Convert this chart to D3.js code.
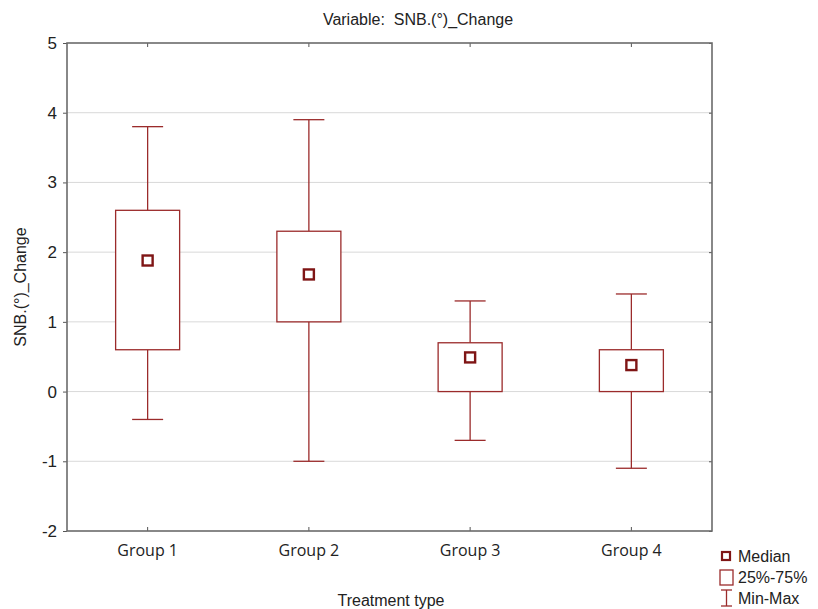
<!DOCTYPE html>
<html><head><meta charset="utf-8">
<script src="https://cdn.jsdelivr.net/npm/d3@7"></script>
<style>body{margin:0;background:#fff}</style>
</head><body>
<svg id="c" width="818" height="609"></svg>
<script>
const categories = ["Group 1", "Group 2", "Group 3", "Group 4"];
const minVals = [-0.4, -1.0, -0.7, -1.1];
const q1Vals = [0.6, 1.0, 0.0, 0.0];
const medianVals = [1.88, 1.68, 0.49, 0.38];
const q3Vals = [2.6, 2.3, 0.7, 0.6];
const maxVals = [3.8, 3.9, 1.3, 1.4];
const yTicks = [-2, -1, 0, 1, 2, 3, 4, 5];

const svg = d3.select("#c");
const L = 67, T = 43, R = 712, B = 531;
const x = d3.scaleBand().domain(categories).range([L, R]).padding(0);
const y = d3.scaleLinear().domain([-2, 5]).range([B, T]);
const red = "#9b2b2b", dark = "#7f1515";
const sans = "Liberation Sans, Arial, sans-serif";

svg.append("g").selectAll("line").data(yTicks.filter(d => d > -2 && d < 5)).join("line")
  .attr("x1", L).attr("x2", R).attr("y1", d => y(d)).attr("y2", d => y(d))
  .attr("stroke", "#d9d9d9").attr("stroke-width", 1);

const axL = svg.append("g").attr("transform", `translate(${L},0)`)
  .call(d3.axisLeft(y).tickValues(yTicks).tickSize(4).tickFormat(d => String(d)));
const axR = svg.append("g").attr("transform", `translate(${R},0)`)
  .call(d3.axisLeft(y).tickValues(yTicks).tickSize(3).tickFormat(""));
const axB = svg.append("g").attr("transform", `translate(0,${B})`)
  .call(d3.axisTop(x).tickSize(4).tickFormat(""));
const axT = svg.append("g").attr("transform", `translate(0,${T})`)
  .call(d3.axisBottom(x).tickSize(4).tickFormat(""));
[axL, axR, axB, axT].forEach(g => {
  g.select(".domain").remove();
  g.selectAll(".tick line").attr("stroke", "#555");
});
axL.selectAll("text").attr("font-family", sans)
  .attr("font-size", 17).attr("fill", "#222").attr("dx", -3);

svg.append("rect").attr("x", L).attr("y", T).attr("width", R - L).attr("height", B - T)
  .attr("fill", "none").attr("stroke", "#6b6b6b").attr("stroke-width", 1.6);

svg.append("g").selectAll("text").data(categories).join("text")
  .attr("x", d => x(d) + x.bandwidth() / 2).attr("y", 556)
  .attr("text-anchor", "middle").attr("font-family", "Open Sans, sans-serif")
  .attr("font-size", 16).attr("fill", "#222").text(d => d);

const bw = 64, cw = 31;
const g = svg.append("g");
categories.forEach((c, i) => {
  const cx = x(c) + x.bandwidth() / 2;
  const gg = g.append("g").attr("stroke", red).attr("stroke-width", 1.3).attr("fill", "none");
  gg.append("line").attr("x1", cx).attr("x2", cx).attr("y1", y(maxVals[i])).attr("y2", y(q3Vals[i]));
  gg.append("line").attr("x1", cx).attr("x2", cx).attr("y1", y(q1Vals[i])).attr("y2", y(minVals[i]));
  gg.append("line").attr("x1", cx - cw / 2).attr("x2", cx + cw / 2).attr("y1", y(maxVals[i])).attr("y2", y(maxVals[i]));
  gg.append("line").attr("x1", cx - cw / 2).attr("x2", cx + cw / 2).attr("y1", y(minVals[i])).attr("y2", y(minVals[i]));
  gg.append("rect").attr("x", cx - bw / 2).attr("width", bw)
    .attr("y", y(q3Vals[i])).attr("height", y(q1Vals[i]) - y(q3Vals[i])).attr("fill", "#fff");
  g.append("rect").attr("x", cx - 5).attr("y", y(medianVals[i]) - 5).attr("width", 10).attr("height", 10)
    .attr("fill", "#fff").attr("stroke", dark).attr("stroke-width", 2.4);
});

svg.append("text").attr("x", 418).attr("y", 25).attr("text-anchor", "middle")
  .attr("font-family", sans).attr("font-size", 16).attr("fill", "#222")
  .attr("xml:space", "preserve").text("Variable:  SNB.(°)_Change");
svg.append("text").attr("transform", "translate(26,287) rotate(-90)").attr("text-anchor", "middle")
  .attr("font-family", sans).attr("font-size", 16).attr("fill", "#222")
  .text("SNB.(°)_Change");
svg.append("text").attr("x", 391).attr("y", 606).attr("text-anchor", "middle")
  .attr("font-family", sans).attr("font-size", 16).attr("fill", "#222")
  .text("Treatment type");

const lg = svg.append("g").attr("font-family", sans).attr("font-size", 16).attr("fill", "#222");
lg.append("rect").attr("x", 722).attr("y", 552).attr("width", 8).attr("height", 8)
  .attr("fill", "#fff").attr("stroke", dark).attr("stroke-width", 2.2);
lg.append("text").attr("x", 738).attr("y", 562).text("Median");
lg.append("rect").attr("x", 720).attr("y", 570).attr("width", 13).attr("height", 15)
  .attr("fill", "#fff").attr("stroke", red).attr("stroke-width", 1.3);
lg.append("text").attr("x", 738).attr("y", 583).text("25%-75%");
const wl = lg.append("g").attr("stroke", red).attr("stroke-width", 1.3);
wl.append("line").attr("x1", 721).attr("x2", 732).attr("y1", 590).attr("y2", 590);
wl.append("line").attr("x1", 721).attr("x2", 732).attr("y1", 606).attr("y2", 606);
wl.append("line").attr("x1", 726.5).attr("x2", 726.5).attr("y1", 590).attr("y2", 606);
lg.append("text").attr("x", 738).attr("y", 604).text("Min-Max");
</script>
</body></html>
